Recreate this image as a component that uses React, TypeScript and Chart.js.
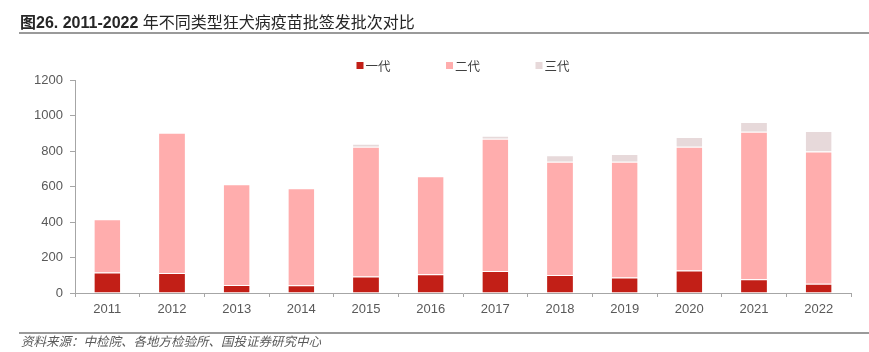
import React, { useEffect, useRef } from "react";
import { Chart, registerables } from "chart.js";

Chart.register(...registerables);

const categories = ["2011", "2012", "2013", "2014", "2015", "2016", "2017", "2018", "2019", "2020", "2021", "2022"];
const seriesNames = ["一代", "二代", "三代"];
const gen1 = [116, 113, 45, 43, 93, 105, 124, 101, 88, 127, 77, 52];
const gen2 = [300, 790, 568, 547, 731, 553, 745, 639, 652, 697, 832, 745];
const gen3 = [0, 0, 0, 0, 17, 0, 17, 36, 43, 55, 54, 116];
const seriesColors = ["#C21F17", "#FFADAD", "#E7D9DA"];
const yMin = 0;
const yMax = 1200;
const yStep = 200;

const titleBold = "图26. 2011-2022 ";
const titleRest = "年不同类型狂犬病疫苗批签发批次对比";
const sourceText = "资料来源：中检院、各地方检验所、国投证券研究中心";

const legendPlugin = {
  id: "customLegend",
  afterDraw(chart: any) {
    const ctx = chart.ctx;
    const area = chart.chartArea;
    const ds = chart.data.datasets;
    const pitch = 89.5;
    const box = 7;
    const gap = 2;
    ctx.save();
    ctx.font = '12.5px "Noto Sans CJK SC", sans-serif';
    const lastW = ctx.measureText(ds[ds.length - 1].label).width;
    const total = pitch * (ds.length - 1) + box + gap + lastW;
    const start = (area.left + area.right) / 2 - total / 2;
    const y = 65.5;
    ds.forEach((d: any, i: number) => {
      const x = start + i * pitch;
      ctx.fillStyle = d.backgroundColor;
      ctx.fillRect(x, y - box / 2, box, box);
      ctx.fillStyle = "#404040";
      ctx.textBaseline = "middle";
      ctx.textAlign = "left";
      ctx.fillText(d.label, x + box + gap, y + 0.5);
    });
    ctx.restore();
  },
};

export default function App() {
  const ref = useRef<HTMLCanvasElement | null>(null);

  useEffect(() => {
    if (!ref.current) return;
    const axisColor = "#A6A6A6";
    const tickFont = { family: '"Liberation Sans", Arial, sans-serif', size: 13 };
    const chart = new Chart(ref.current, {
      type: "bar",
      data: {
        labels: categories,
        datasets: [gen1, gen2, gen3].map((vals, i) => ({
          label: seriesNames[i],
          data: vals,
          backgroundColor: seriesColors[i],
          borderColor: "rgba(255,255,255,0.85)",
          borderWidth: { top: 1, left: 0, right: 0, bottom: 0 },
          borderSkipped: false,
          barPercentage: 0.4,
          categoryPercentage: 1,
        })),
      },
      options: {
        responsive: false,
        animation: false,
        layout: { padding: { top: 80, bottom: 29, left: 0, right: 18 } },
        plugins: {
          legend: { display: false },
          tooltip: { enabled: false },
        },
        scales: {
          x: {
            stacked: true,
            grid: {
              offset: true,
              drawOnChartArea: false,
              drawTicks: true,
              tickLength: 4,
              color: axisColor,
            },
            border: { color: axisColor, width: 1 },
            ticks: {
              color: "#595959",
              padding: 5,
              font: tickFont,
            },
            afterFit(scale: any) {
              scale.height = 30;
            },
          },
          y: {
            stacked: true,
            min: yMin,
            max: yMax,
            grid: {
              drawOnChartArea: false,
              drawTicks: true,
              tickLength: 5,
              color: axisColor,
            },
            border: { color: axisColor, width: 1 },
            ticks: {
              stepSize: yStep,
              color: "#595959",
              padding: 7,
              font: tickFont,
              callback: (v: any) => String(v),
            },
            afterFit(scale: any) {
              scale.width = 75;
            },
          },
        },
      },
      plugins: [legendPlugin],
    });
    return () => chart.destroy();
  }, []);

  return (
    <div style={{ position: "fixed", left: 0, top: 0, width: 869, height: 352, background: "#fff", overflow: "hidden" }}>
      <canvas ref={ref} width={869} height={352} style={{ position: "absolute", left: 0, top: 0 }} />
      <div
        style={{
          position: "absolute",
          left: 20,
          top: 11,
          fontSize: 16,
          lineHeight: "20px",
          whiteSpace: "nowrap",
          color: "#262626",
          fontFamily: '"Liberation Sans", Arial, "Noto Sans CJK SC", sans-serif',
        }}
      >
        <span style={{ fontWeight: "bold" }}>{titleBold}</span>
        <span style={{ fontFamily: '"Noto Sans CJK SC", sans-serif', fontWeight: 400 }}>{titleRest}</span>
      </div>
      <div style={{ position: "absolute", left: 19, right: 0, top: 32, height: 2, background: "#9A9A9A" }} />
      <div style={{ position: "absolute", left: 19, right: 0, top: 332, height: 1.5, background: "#9A9A9A" }} />
      <div
        style={{
          position: "absolute",
          left: 21,
          top: 333,
          fontSize: 12.5,
          lineHeight: "16px",
          whiteSpace: "nowrap",
          color: "#595959",
          fontStyle: "italic",
          fontFamily: '"Noto Sans CJK SC", sans-serif',
        }}
      >
        {sourceText}
      </div>
    </div>
  );
}
